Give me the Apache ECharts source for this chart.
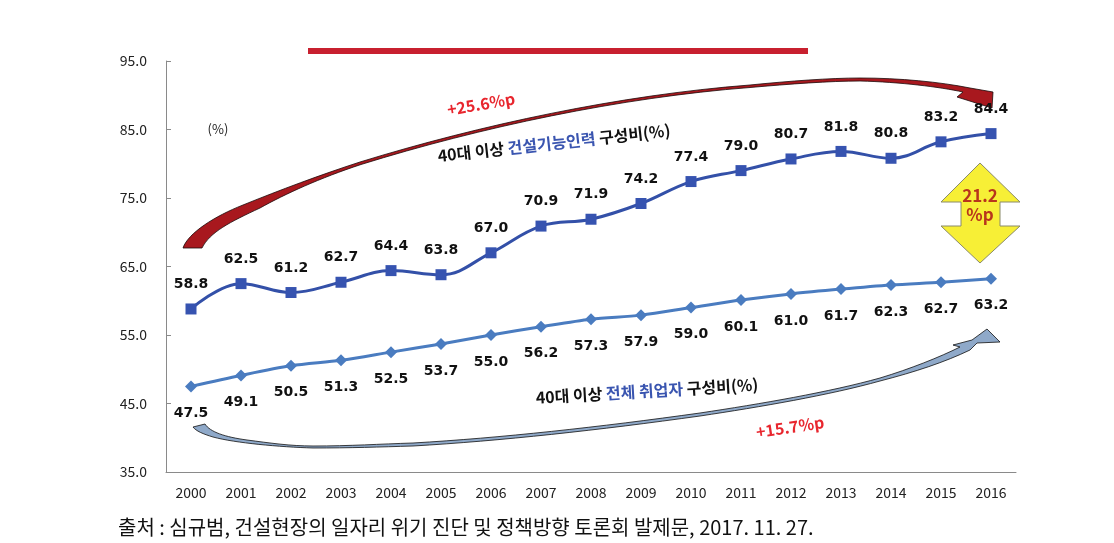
<!DOCTYPE html>
<html>
<head>
<meta charset="utf-8">
<script src="https://cdn.jsdelivr.net/npm/echarts@6/dist/echarts.min.js"></script>
<style>
html,body{margin:0;padding:0;background:#fff;}
#c{width:1114px;height:543px;}
</style>
</head>
<body>
<div id="c"></div>
<script>
const years = ['2000','2001','2002','2003','2004','2005','2006','2007','2008','2009','2010','2011','2012','2013','2014','2015','2016'];
const constructionSkilled = [58.8,62.5,61.2,62.7,64.4,63.8,67.0,70.9,71.9,74.2,77.4,79.0,80.7,81.8,80.8,83.2,84.4];
const allWorkers = [47.5,49.1,50.5,51.3,52.5,53.7,55.0,56.2,57.3,57.9,59.0,60.1,61.0,61.7,62.3,62.7,63.2];
const yTicks = {min:35, max:95, interval:10};

const chart = echarts.init(document.getElementById('c'));
const KR = '"Noto Sans CJK KR", "Noto Sans", sans-serif';
const LBL = '"DejaVu Sans", Verdana, sans-serif';

const redArrow = 'M 183 248 C 188 233 215 216 243 205 C 280 190 320 175 360 162 C 480 125 620 95 750 85 C 790 81 830 78 860 78 C 900 78 940 82 970 88 L 993 92 L 992 108 L 957 97 L 963 92 C 940 87 900 82 860 81 C 830 81 790 84 750 87.5 C 620 97.5 480 127.5 361 164.5 C 320 178 285 194 260 208 C 230 222 210 232 202 248 Z';
const blueArrow = 'M 193 427 L 205 424 C 210 432 225 437 247 440 C 270 443 290 446 313 446 C 350 446 380 444 413 443 C 500 438 600 427 700 413 C 760 404 830 392 880 378 C 910 369 940 357 960 347 L 953 345 L 972 340 L 987 329 L 1000 342 L 977 343 L 970 350 C 945 362 915 372 880 381 C 830 395 760 407 700 416 C 600 430 500 441 413 446 C 380 447 350 448 313 448 C 280 447 235 443 213 437 C 203 434 196 431 193 427 Z';
const yellowArrow = 'M 980 163 L 1020 202 L 1000 202 L 1000 226 L 1020 226 L 980 263 L 941 226 L 961 226 L 961 202 L 941 202 Z';

chart.setOption({
  animation:false,
  backgroundColor:'#fff',
  grid:{left:166,right:98,top:61,bottom:71},
  xAxis:{
    type:'category', data:years, boundaryGap:true,
    axisLine:{lineStyle:{color:'#8a8a8a',width:1}},
    axisTick:{inside:true,length:5,lineStyle:{color:'#8a8a8a'}},
    axisLabel:{color:'#222',fontSize:14,fontFamily:KR,margin:14},
    splitLine:{show:false}
  },
  yAxis:{
    type:'value', min:yTicks.min, max:yTicks.max, interval:yTicks.interval,
    axisLine:{show:true,lineStyle:{color:'#8a8a8a',width:1}},
    axisTick:{show:true,inside:true,length:5,lineStyle:{color:'#8a8a8a'}},
    axisLabel:{color:'#222',fontSize:14,fontFamily:KR,margin:19,formatter:v=>v.toFixed(1)},
    splitLine:{show:false}
  },
  series:[
    {
      type:'custom', coordinateSystem:'none', data:[0], silent:true, z:1,
      renderItem:function(){
        return {type:'group', children:[
          {type:'path', shape:{pathData:redArrow}, style:{fill:'#a8181e',stroke:'#1a0a0a',lineWidth:0.8}},
          {type:'path', shape:{pathData:blueArrow}, style:{fill:'#8fa9c9',stroke:'#111',lineWidth:0.8}},
          {type:'path', shape:{pathData:yellowArrow}, style:{fill:'#f7ef36',stroke:'#8a8a6a',lineWidth:1}}
        ]};
      }
    },
    {
      name:'40대 이상 건설기능인력 구성비', type:'line', data:constructionSkilled,
      smooth:0.4, symbol:'rect', symbolSize:11,
      lineStyle:{color:'#3350a8',width:3},
      itemStyle:{color:'#3653b0'},
      label:{show:true,position:'top',distance:12,fontFamily:LBL,fontWeight:'bold',fontSize:14,color:'#111',formatter:p=>p.value.toFixed(1)},
      z:3
    },
    {
      name:'40대 이상 전체 취업자 구성비', type:'line', data:allWorkers,
      smooth:0.3, symbol:'diamond', symbolSize:12,
      lineStyle:{color:'#4a7cc0',width:3},
      itemStyle:{color:'#4a7cc0'},
      label:{show:true,position:'bottom',distance:14,fontFamily:LBL,fontWeight:'bold',fontSize:14,color:'#111',formatter:p=>p.value.toFixed(1)},
      z:3
    }
  ],
  graphic:[
    {type:'rect', shape:{x:308,y:48,width:500,height:6}, style:{fill:'#c8202f'}, z:1},
    {type:'text', x:980, y:196, style:{text:'21.2',font:'bold 17px '+KR,fill:'#b8351c',align:'center',verticalAlign:'middle'}, z:5},
    {type:'text', x:980, y:215, style:{text:'%p',font:'bold 17px '+KR,fill:'#b8351c',align:'center',verticalAlign:'middle'}, z:5},
    {type:'text', x:218, y:129, style:{text:'(%)',font:'13px '+KR,fill:'#222',align:'center',verticalAlign:'middle'}, z:5},
    {type:'text', x:481, y:104, rotation:0.17, style:{text:'+25.6%p',font:'bold 16px '+KR,fill:'#e8262e',align:'center',verticalAlign:'middle'}, z:5},
    {type:'text', x:790, y:427, rotation:0.15, style:{text:'+15.7%p',font:'bold 16px '+KR,fill:'#e8262e',align:'center',verticalAlign:'middle'}, z:5},
    {type:'text', x:554, y:143, rotation:0.11, style:{
      text:'{a|40대 이상 }{b|건설기능인력}{a| 구성비(%)}', align:'center', verticalAlign:'middle',
      rich:{a:{fontFamily:KR,fontWeight:'bold',fontSize:16,fill:'#111'},b:{fontFamily:KR,fontWeight:'bold',fontSize:16,fill:'#3a55b0'}}}, z:5},
    {type:'text', x:647, y:391, rotation:0.06, style:{
      text:'{a|40대 이상 }{b|전체 취업자}{a| 구성비(%)}', align:'center', verticalAlign:'middle',
      rich:{a:{fontFamily:KR,fontWeight:'bold',fontSize:16,fill:'#111'},b:{fontFamily:KR,fontWeight:'bold',fontSize:16,fill:'#3a55b0'}}}, z:5},
    {type:'text', x:118, y:527, style:{text:'출처 : 심규범, 건설현장의 일자리 위기 진단 및 정책방향 토론회 발제문, 2017. 11. 27.',font:'20px '+KR,fill:'#111',align:'left',verticalAlign:'middle'}, z:5}
  ]
});
</script>
</body>
</html>
